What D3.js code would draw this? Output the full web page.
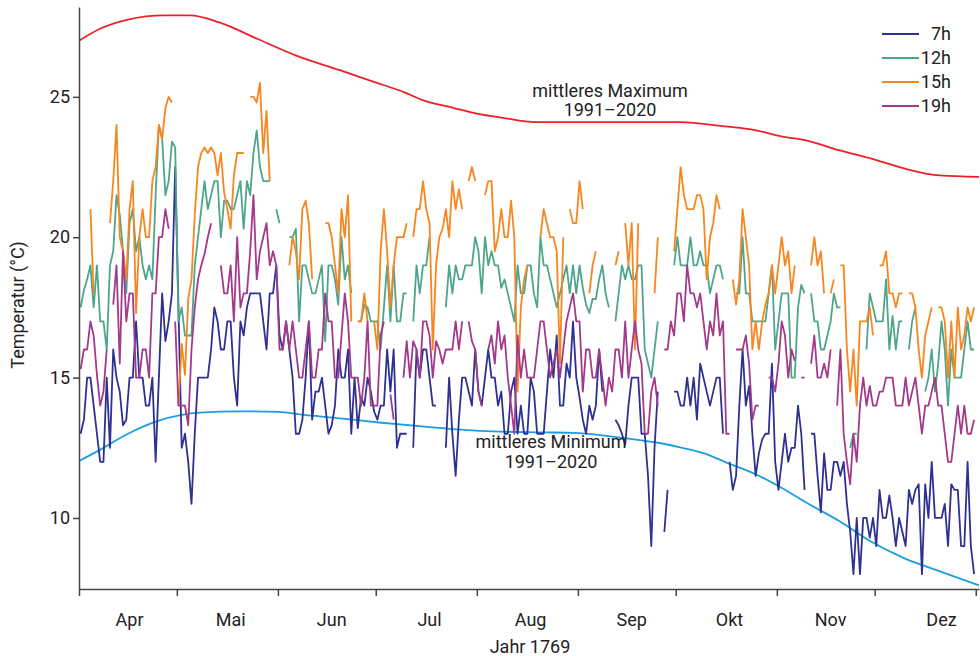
<!DOCTYPE html>
<html>
<head>
<meta charset="utf-8">
<style>
    body { margin: 0; background: #fff; }
    svg text { font-family: Roboto, "Noto Sans", sans-serif; fill: #222; }
</style>
</head>
<body>

<svg id="chart" width="980" height="656"></svg>

<script src="https://d3js.org/d3.v7.min.js"></script>
<script>

    // days from 1 April to 31 December 1769, one value per day, null = no reading
    const startDate = new Date(Date.UTC(1769, 3, 1))
    const endDate = new Date(Date.UTC(1770, 0, 2))
    const monthNames = ["Apr", "Mai", "Jun", "Jul", "Aug", "Sep", "Okt", "Nov", "Dez"]
    const monthLabelDays = ["1769-04-16", "1769-05-17", "1769-06-17", "1769-07-17", "1769-08-17",
        "1769-09-17", "1769-10-17", "1769-11-17", "1769-12-21"]
    const yTicks = [10, 15, 20, 25]
    const seriesNames = ["7h", "12h", "15h", "19h"]
    const seriesColors = ["#2e3192", "#4da58c", "#f7861f", "#a3398b"]

    const t7 = [
        13,13.5,15,15,14,13,12,12,15,12.5,16,15,14.5,13.3,13.5,15,15,17,15,15,14,14,15,12,15,18,16.3,17,18,22.5,
        17.5,12.5,13,12,10.5,13,15,15,15,15,16,17.5,17,16,16,17,17,15,14,17,16.5,17.5,18,18,18,18,17,16,18,18,19,
        16.5,16,17,16,15,13,13,13.5,15,17,13.5,14.5,14.5,15,14,13,13.3,14,16,15,15,16,13,15,13.2,14.3,14,15,14.5,13.8,
        13.5,14,14,16,14.5,16,12.5,13,13,13,null,12.5,16,15,16,16,15,14,14,null,null,12.5,15,13,11.5,13.5,15,15,14.5,14,16,
        14.5,14,15,16,15,15,14,14.5,13,13,14.5,15,13,14,13,13,15,14.5,13,13,13,14.5,16,15,16.5,14,14,15.5,15,17,15,
        14.3,13.5,13,14,13.5,14,16,14.5,null,null,null,13.5,13.3,13,12.6,14,15,15,15,13,13,11.5,9,12.5,14.5,null,9.5,11,null,14.5,
        14.5,14,14,15,14,15,13.5,15.5,15,14.5,14,14.5,15,15,13,null,12,11,11.5,14,16,14,14.7,13,11.5,12.3,12.8,13,13,15.5,12,
        11,12,13,12,12.5,12.5,14,13,11,null,13,13,11.5,10.2,12.3,11,11,12,12,11.5,12,10.5,9.5,8,10,8,10,10,9.3,10,
        9,11,10,10,10.8,10,9,10,9.5,9,11,10.5,11,11.2,8,11.2,10,12,10,10,10,10.5,9,11.2,11,11,9,9,12,9,8
    ]

    const t12 = [
        17.5,18.1,18.5,19,17.5,19,17,17,16,19,19.5,21.5,20.8,19.5,18,20.5,21,19.5,20,19,18.5,19,18.5,21.5,24,23.5,21.5,22,23.4,23.2,
        17,17.5,16.5,16.5,16.5,19,20,21,22,21,21.5,22,22,20,21.3,21.3,21,21,21.5,22,20.3,22,21.5,23,23.8,22.5,22,22,22,null,21,
        20.5,null,null,20,20,20.3,17,19,19,18.5,18,18,18.5,19,16.3,19,19,18.5,17.6,20,18.5,19,18,null,17,17,17.6,17.5,17,17,
        17,16,17.5,19,17,19,17,17,18,18,null,17,19,18,19,19,20,null,null,null,null,17.5,19,18,19,18.5,18.5,19,19,19,20,
        19.5,18,20,19,19.5,19,19,18.2,18.5,18,17.5,17,19,18,18,19,19,18,17.5,20,19,19,18.5,18,17.5,18,18.5,19,18,19,18,
        19,18.2,17.6,17.3,17.8,17.8,18.5,19,18,17.5,null,17,18,19,18.5,19,18.5,18.5,19,19,16,15.5,15,16,17,null,null,null,null,19,
        20,19,19,19,20,19,19,19.5,19,19,18,18.5,19,19,18.5,null,null,null,18,18,20,18,18,17,17,17,17,17,18,19,16,
        17,18,18,18,15,15,17.5,18.3,18,null,18,17,17,16,16,16.5,17,18,17.5,17.5,null,null,12.5,13,13,null,null,16,18,17.5,
        17,17,17,18.5,16,17.2,16,17,17,null,16,17,17.5,null,null,14.5,15,16,14.5,15.5,17,16,14,16,15,15,15,16,17,16,16
    ]

    const t15 = [
        null,null,null,21,18,null,null,null,null,20.5,22,24,20,19.5,18.5,21,22,17.3,20,21,20,20,22,22.5,24,23.5,24.6,25,24.8,null,
        14,16.2,15.1,17.8,18.5,20.8,22.5,23,23.2,23,23.2,23,22.2,23,21.6,21,20.3,22.2,23,23,23,null,25,25,24.8,25.5,23,24.5,22,null,null,
        null,null,null,19,20,19.5,18.5,21,21.3,20.5,18.5,null,null,null,20.5,20.5,20,19,18,21,20,21.5,17,null,17,17,18,17,null,17,
        16,19.5,21,19.5,17.5,19,20,20,20,20.5,null,20,21,21,22,21,20.5,16,19,20,20.3,21,20,22,21,21.7,21,null,22,22.5,22,
        null,null,21.5,22,22,19.5,20,21,20,20,21.3,20,14.5,17.5,18.5,19,null,null,null,20,21,20.5,20,20,19.5,15.5,20,null,21,20.5,20.5,
        22,21,null,18,19,19.5,null,null,null,null,null,19,19.5,null,20.5,19,20.5,16,20.5,null,null,null,null,18,20,null,null,null,null,19.5,
        21,22.5,21.5,21,21,21,21.5,21.5,21,18.5,20,20.5,21.5,21,null,null,null,18.5,17.6,18.5,21,20,19,16,17,16,17,17.6,18,19,18,
        19,20,19,19.5,18,19,null,null,null,null,19,20,19,19.5,18,null,18,18.5,null,19,19,16,14.5,16,14,17,17,17,17.5,16.5,
        null,19,19,19.5,18,18,17.5,18,18,null,18,18,17.5,16,15,16.5,17,17.5,null,17.5,17.5,17,15,17,15,17.5,16,16.5,17.5,17,17.5
    ]

    const t19 = [
        15.3,16,16,17,16.5,15.1,14,14.5,16,null,17.6,19,15.5,19.5,17,18,18,15,15,16,16,15,18,18,20,20,21,20.3,null,17,
        14,14,14,13.3,16,17.5,18.5,19,19.4,20,20.5,null,null,19,18,18,19,17,20,17.5,18,18,19.5,21.5,18.5,19.5,20,20.5,19,19.5,19,
        16,16,17,16,17,16,15,15,16,17,15,15,16,16,18,17,17,15,15,16.5,18,17,15,15,15,14,15,17,14,14,
        14,16.5,17,null,14.4,13.5,null,null,15,16.3,15,16.3,16,15,17,17,16.5,15,16.3,16,15.5,16,16,16,17,16,17,null,17,16.3,16,
        14.5,14,null,16,16.5,15.5,17,16,16.5,15,14,13,16.5,15,16,15,15,15,16,17,17,16,15,15.5,16,15,16,17,17.5,18,17,
        17,14.5,16,16,15,15,16,15,14,15,14.5,16,16,15,17,15,16,17,16,15.5,13,13,14.5,15,14,null,16,16,17,16.5,
        18,18,17,19,18,18,17.5,18,17,16,17,16.5,18,16.5,17,13,13,null,16,16,16,16.5,15.5,13.5,14,14,null,null,15,15,14.5,
        15.5,17,16.5,15,16,15.6,null,15,15,null,15.5,16.5,15,15,15.5,15,16,null,14,16,13,12,11.2,13,12,14,15,14,14.7,14,
        14,14.5,14.5,15,15,15,14,14,14,15,14,14.5,15,14,13,14,14,14.5,15,14,14,13,12,12,13,14,13,14,13,13,13.5
    ]

    // long-term means 1991-2020, read at a few dates
    const meanMaxDates = ["1769-04-01","1769-04-07","1769-04-16","1769-04-27","1769-05-05","1769-05-14","1769-05-26",
        "1769-06-07","1769-06-20","1769-06-30","1769-07-10","1769-07-15","1769-07-25","1769-08-01","1769-08-09","1769-08-19",
        "1769-10-02","1769-10-16","1769-10-26","1769-11-02","1769-11-10","1769-11-20","1769-11-30","1769-12-10","1769-12-21","1770-01-02"]
    const meanMaxValues = [27.0,27.4,27.75,27.9,27.9,27.65,27.05,
        26.45,25.95,25.55,25.15,24.9,24.6,24.4,24.25,24.1,
        24.1,23.95,23.8,23.6,23.45,23.1,22.8,22.45,22.2,22.15]

    const meanMinDates = ["1769-04-01","1769-04-07","1769-04-16","1769-04-25","1769-05-08","1769-05-20","1769-06-01",
        "1769-06-09","1769-06-20","1769-07-02","1769-07-16","1769-08-02","1769-08-21","1769-08-31","1769-09-15","1769-09-26",
        "1769-10-03","1769-10-11","1769-10-16","1769-10-26","1769-11-02","1769-11-10","1769-11-20","1769-11-30","1769-12-10","1769-12-21","1770-01-02"]
    const meanMinValues = [12.03,12.4,13.0,13.45,13.75,13.8,13.78,
        13.67,13.55,13.4,13.25,13.1,13.05,13.03,12.85,12.67,
        12.5,12.25,12.0,11.53,11.1,10.55,9.9,9.15,8.57,8.1,7.6]

    let svg = d3.select("#chart")
    let parseDay = d3.utcParse("%Y-%m-%d")

    let x = d3.scaleUtc()
        .domain([startDate, endDate])
        .range([79, 979])

    let y = d3.scaleLinear()
        .domain([7.47, 28.2])
        .range([589, 7])

    // readings are put at noon of their day
    function toPoints(values) {
        return values.map((v, i) => ({
            date: d3.utcHour.offset(d3.utcDay.offset(startDate, i), 12),
            v: v
        }))
    }

    let dataLine = d3.line()
        .defined(d => d.v != null)
        .x(d => x(d.date))
        .y(d => y(d.v))

    let meanLine = d3.line()
        .curve(d3.curveMonotoneX)
        .x(d => x(d.date))
        .y(d => y(d.v))

    let meanMax = meanMaxDates.map((d, i) => ({ date: parseDay(d), v: meanMaxValues[i] }))
    let meanMin = meanMinDates.map((d, i) => ({ date: parseDay(d), v: meanMinValues[i] }))

    svg.append("path")
        .attr("d", meanLine(meanMax))
        .attr("fill", "none")
        .attr("stroke", "#ec2027")
        .attr("stroke-width", 1.8)

    svg.append("path")
        .attr("d", meanLine(meanMin))
        .attr("fill", "none")
        .attr("stroke", "#1c9ee0")
        .attr("stroke-width", 1.8)

    let allSeries = [t7, t12, t15, t19]

    svg.selectAll(".series")
        .data(allSeries)
        .enter()
        .append("path")
        .attr("class", "series")
        .attr("d", d => dataLine(toPoints(d)))
        .attr("fill", "none")
        .attr("stroke", (d, i) => seriesColors[i])
        .attr("stroke-width", 1.8)
        .attr("stroke-linejoin", "round")

    // axes
    let monthStarts = d3.utcMonth.range(startDate, endDate)

    let xAxis = svg.append("g")
        .attr("transform", "translate(0,589)")
        .call(d3.axisBottom(x).tickValues(monthStarts).tickFormat("").tickSize(7).tickSizeOuter(0))

    let yAxis = svg.append("g")
        .attr("transform", "translate(79,0)")
        .call(d3.axisLeft(y).tickValues(yTicks).tickSize(6).tickPadding(3).tickSizeOuter(0))

    svg.selectAll(".domain, .tick line")
        .attr("stroke", "#444")
        .attr("stroke-width", 1.5)

    yAxis.selectAll("text")
        .attr("font-size", 18)
        .attr("font-family", null)
        .attr("fill", "#222")

    svg.selectAll(".month")
        .data(monthNames)
        .enter()
        .append("text")
        .attr("class", "month")
        .attr("x", (d, i) => x(d3.utcHour.offset(parseDay(monthLabelDays[i]), 12)))
        .attr("y", 626)
        .attr("text-anchor", "middle")
        .attr("font-size", 18)
        .text(d => d)

    svg.append("text")
        .attr("x", 530)
        .attr("y", 653)
        .attr("text-anchor", "middle")
        .attr("font-size", 18)
        .text("Jahr 1769")

    svg.append("text")
        .attr("transform", "translate(24,305) rotate(-90)")
        .attr("text-anchor", "middle")
        .attr("font-size", 18)
        .text("Temperatur (°C)")

    // labels on the mean curves
    let notes = [
        { x: 610, y: 96.5, t: "mittleres Maximum" },
        { x: 610, y: 115.5, t: "1991–2020" },
        { x: 551, y: 448, t: "mittleres Minimum" },
        { x: 551, y: 468, t: "1991–2020" }
    ]
    svg.selectAll(".note")
        .data(notes)
        .enter()
        .append("text")
        .attr("class", "note")
        .attr("x", d => d.x)
        .attr("y", d => d.y)
        .attr("text-anchor", "middle")
        .attr("font-size", 18)
        .text(d => d.t)

    // legend
    let legend = svg.selectAll(".legend")
        .data(seriesNames)
        .enter()
        .append("g")
        .attr("class", "legend")
        .attr("transform", (d, i) => "translate(0," + (34 + i * 24) + ")")

    legend.append("line")
        .attr("x1", 882)
        .attr("x2", 919)
        .attr("stroke", (d, i) => seriesColors[i])
        .attr("stroke-width", 2)

    legend.append("text")
        .attr("x", 951)
        .attr("dy", "0.35em")
        .attr("text-anchor", "end")
        .attr("font-size", 18)
        .text(d => d)

</script>
</body>
</html>
